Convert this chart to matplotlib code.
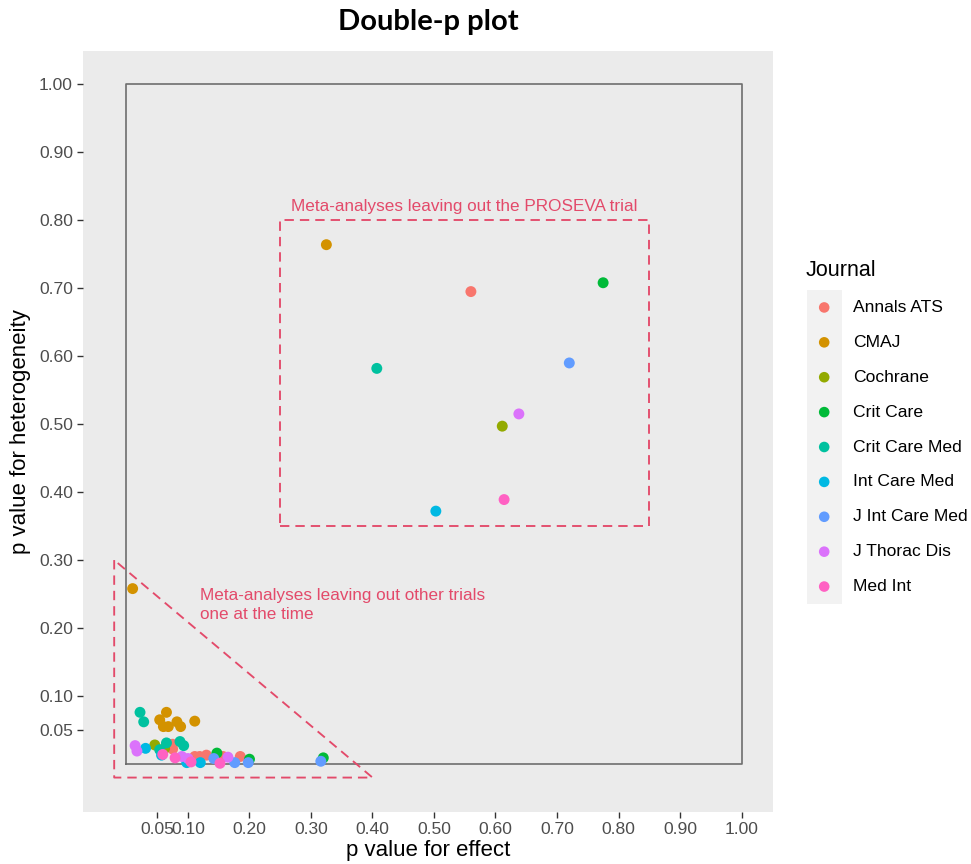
#!/usr/bin/env python3
import matplotlib
matplotlib.use("Agg")
import matplotlib.pyplot as plt

# ====== data ======
journals = ["Annals ATS", "CMAJ", "Cochrane", "Crit Care", "Crit Care Med",
            "Int Care Med", "J Int Care Med", "J Thorac Dis", "Med Int"]
colors = ["#F8766D", "#D39200", "#93AA00", "#00BA38", "#00C19F",
          "#00B9E3", "#619CFF", "#DB72FB", "#FF61C3"]

# p value for effect (x) and p value for heterogeneity (y), per journal
p_effect = {
    "Annals ATS":     [0.560, 0.075, 0.075, 0.111, 0.119, 0.130, 0.157, 0.185],
    "CMAJ":           [0.325, 0.010, 0.065, 0.054, 0.060, 0.068, 0.082, 0.088, 0.111],
    "Cochrane":       [0.611, 0.046, 0.062],
    "Crit Care":      [0.775, 0.147, 0.200, 0.320],
    "Crit Care Med":  [0.407, 0.022, 0.028, 0.065, 0.087, 0.093, 0.054],
    "Int Care Med":   [0.503, 0.031, 0.057, 0.098, 0.120],
    "J Int Care Med": [0.720, 0.142, 0.176, 0.198, 0.316],
    "J Thorac Dis":   [0.638, 0.014, 0.017, 0.090, 0.100, 0.165],
    "Med Int":        [0.614, 0.059, 0.079, 0.152, 0.105],
}
p_het = {
    "Annals ATS":     [0.695, 0.029, 0.022, 0.011, 0.011, 0.013, 0.011, 0.011],
    "CMAJ":           [0.764, 0.258, 0.076, 0.065, 0.055, 0.055, 0.062, 0.055, 0.063],
    "Cochrane":       [0.497, 0.028, 0.023],
    "Crit Care":      [0.708, 0.016, 0.007, 0.009],
    "Crit Care Med":  [0.582, 0.076, 0.062, 0.031, 0.033, 0.027, 0.021],
    "Int Care Med":   [0.372, 0.023, 0.013, 0.002, 0.002],
    "J Int Care Med": [0.590, 0.008, 0.002, 0.002, 0.004],
    "J Thorac Dis":   [0.515, 0.027, 0.019, 0.011, 0.008, 0.010],
    "Med Int":        [0.389, 0.014, 0.009, 0.001, 0.003],
}

tick_vals = [0.05, 0.10, 0.20, 0.30, 0.40, 0.50, 0.60, 0.70, 0.80, 0.90, 1.00]

# annotation shapes (data units)
outer_x = [0, 1, 1, 0, 0]
outer_y = [0, 0, 1, 1, 0]
proseva_x = [0.25, 0.85, 0.85, 0.25, 0.25]
proseva_y = [0.35, 0.35, 0.80, 0.80, 0.35]
tri_x = [-0.02, -0.02, 0.40, -0.02]
tri_y = [0.30, -0.02, -0.02, 0.30]
# =========================================

W, H = 971, 864
ann_col = "#E34A6A"
dash = (0, (5.0, 3.2))
plt.rcParams['font.family'] = ['Liberation Sans', 'DejaVu Sans']


def main():
    fig = plt.figure(figsize=(W / 100, H / 100), dpi=100)
    ax = fig.add_axes([82.7 / W, 1 - 812.3 / H, (773.3 - 82.7) / W, (812.3 - 50.7) / H])
    ax.set_facecolor("#EBEBEB")
    for s in ax.spines.values():
        s.set_visible(False)

    ax.plot(outer_x, outer_y, color="#6E6E6E", lw=1.2, zorder=1)
    ax.plot(proseva_x, proseva_y, color=ann_col, lw=1.35, ls=dash, zorder=1)
    ax.plot(tri_x, tri_y, color=ann_col, lw=1.35, ls=dash, zorder=1)

    for j, c in zip(journals, colors):
        ax.scatter(p_effect[j], p_het[j], s=62, color=c, edgecolors="none", zorder=3)

    ax.text(0.55, 0.82, "Meta-analyses leaving out the PROSEVA trial",
            color=ann_col, fontsize=12.3, ha="center", va="center")
    ax.text(0.12, 0.234, "Meta-analyses leaving out other trials\none at the time",
            color=ann_col, fontsize=12.3, ha="left", va="center", linespacing=1.3)

    ax.set_xlim(-0.0712, 1.0517)
    ax.set_ylim(-0.0711, 1.0494)
    ax.set_xticks(tick_vals)
    ax.set_yticks(tick_vals)
    ax.set_xticklabels(["{:.2f}".format(v) for v in tick_vals])
    ax.set_yticklabels(["{:.2f}".format(v) for v in tick_vals])
    ax.tick_params(axis="both", length=4, width=1.0, color="#333333",
                   labelcolor="#4D4D4D", labelsize=12.6, pad=3)

    ax.set_xlabel("p value for effect", fontsize=16, labelpad=2)
    ax.set_ylabel("p value for heterogeneity", fontsize=16, labelpad=6)

    fig.text(428 / W, 1 - 22 / H, "Double-p plot", fontsize=21,
             fontweight="bold", family=["Lato", "DejaVu Sans"],
             ha="center", va="center")

    # legend drawn as a small strip of keys
    lax = fig.add_axes([806.7 / W, 1 - 604 / H, 35 / W, 314 / H])
    lax.set_facecolor("#F2F2F2")
    for s in lax.spines.values():
        s.set_visible(False)
    lax.set_xticks([])
    lax.set_yticks([])
    lax.set_xlim(0, 1)
    lax.set_ylim(len(journals) - 0.5, -0.5)
    for i, (j, c) in enumerate(zip(journals, colors)):
        lax.scatter([0.5], [i], s=58, color=c, edgecolors="none")
        lax.text(1.33, i, j, fontsize=12.6, va="center", ha="left", clip_on=False)
    fig.text(806 / W, 1 - 270 / H, "Journal", fontsize=15.5, ha="left", va="center")

    fig.savefig("out.png", dpi=100)


if __name__ == '__main__':
    main()
